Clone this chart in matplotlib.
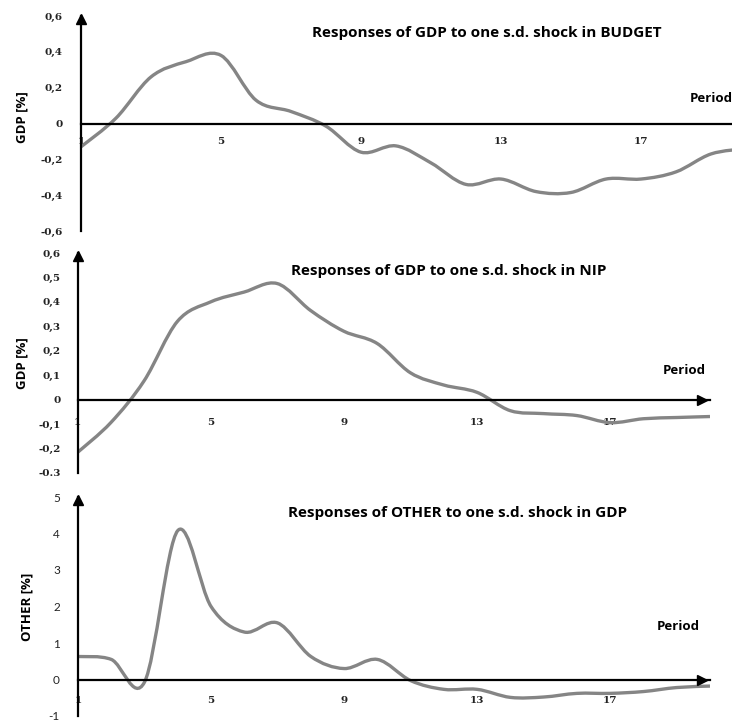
import numpy as np
import matplotlib
matplotlib.use("Agg")
import matplotlib.pyplot as plt
from matplotlib.path import Path
from matplotlib.patches import PathPatch

W, H = 732, 722

periods = list(range(1, 21))

# Responses of GDP to BUDGET shock
gdp_budget = [-0.13, 0.03, 0.26, 0.345, 0.38, 0.13, 0.067, -0.015, -0.16, -0.125,
              -0.22, -0.34, -0.31, -0.38, -0.385, -0.31, -0.31, -0.27, -0.17, -0.14]

# Responses of GDP to NIP shock
gdp_nip = [-0.216, -0.094, 0.077, 0.32, 0.40, 0.44, 0.475, 0.365, 0.28, 0.23,
           0.11, 0.06, 0.03, -0.045, -0.057, -0.065, -0.094, -0.078, -0.073, -0.069]

# Responses of OTHER to GDP shock
other_gdp = [0.63, 0.55, -0.07, 4.08, 2.0, 1.3, 1.55, 0.63, 0.3, 0.55,
             -0.03, -0.27, -0.27, -0.49, -0.48, -0.38, -0.38, -0.33, -0.22, -0.18]

xticks = [1, 5, 9, 13, 17]

yticks1 = [-0.6, -0.4, -0.2, 0, 0.2, 0.4, 0.6]
ylabels1 = ["-0,6", "-0,4", "-0,2", "0", "0,2", "0,4", "0,6"]
yticks2 = [-0.3, -0.2, -0.1, 0, 0.1, 0.2, 0.3, 0.4, 0.5, 0.6]
ylabels2 = ["-0.3", "-0,2", "-0,1", "0", "0,1", "0,2", "0,3", "0,4", "0,5", "0,6"]
yticks3 = [-1, 0, 1, 2, 3, 4, 5]
ylabels3 = ["-1", "0", "1", "2", "3", "4", "5"]

titles = ["Responses of GDP to one s.d. shock in BUDGET",
          "Responses of GDP to one s.d. shock in NIP",
          "Responses of OTHER to one s.d. shock in GDP"]

LINE = "#858585"
SANS = ["Open Sans", "DejaVu Sans"]
SERIF = ["DejaVu Serif"]


def smooth_path(x, y):
    # Excel-like smoothed line: Catmull-Rom converted to cubic Bezier
    pts = np.column_stack([x, y]).astype(float)
    n = len(pts)
    verts = [pts[0]]
    codes = [Path.MOVETO]
    for i in range(n - 1):
        p0 = pts[max(i - 1, 0)]
        p1 = pts[i]
        p2 = pts[i + 1]
        p3 = pts[min(i + 2, n - 1)]
        verts += [p1 + (p2 - p0) / 6, p2 - (p3 - p1) / 6, p2]
        codes += [Path.CURVE4] * 3
    return Path(verts, codes)


def px_ax(left, top, right, bottom):
    return fig.add_axes([left / W, 1 - bottom / H, (right - left) / W, (bottom - top) / H])


fig = plt.figure(figsize=(W / 100, H / 100), dpi=100)

panels = [
    dict(box=(81, 16, 732, 231), xlim=(1, 19.6), ylim=(-0.6, 0.6), data=gdp_budget,
         yt=yticks1, yl=ylabels1, yfont=SERIF, yweight="bold", ysize=7.5,
         xpad=10, ypad=13,
         xarrow=False, title_xy=(487, 33), period_xy=(690, 98),
         ylabel="GDP [%]", ylabel_xy=(22, 117)),
    dict(box=(77.5, 253, 710, 473), xlim=(1, 20), ylim=(-0.3, 0.6), data=gdp_nip,
         yt=yticks2, yl=ylabels2, yfont=SERIF, yweight="bold", ysize=7.5,
         xpad=13, ypad=12,
         xarrow=True, title_xy=(449, 271), period_xy=(663, 370),
         ylabel="GDP [%]", ylabel_xy=(22, 363)),
    dict(box=(78, 497, 710, 716), xlim=(1, 20), ylim=(-1, 5), data=other_gdp,
         yt=yticks3, yl=ylabels3, yfont=["Lato", "DejaVu Sans"], yweight="normal",
         ysize=8.5, xpad=12, ypad=13,
         xarrow=True, title_xy=(458, 513), period_xy=(657, 626),
         ylabel="OTHER [%]", ylabel_xy=(27, 607)),
]

for p, title in zip(panels, titles):
    ax = px_ax(*p["box"])
    ax.set_xlim(*p["xlim"])
    ax.set_ylim(*p["ylim"])
    ax.patch.set_visible(False)

    ax.add_patch(PathPatch(smooth_path(periods, p["data"]), facecolor="none",
                           edgecolor=LINE, lw=2.4, zorder=3))

    for side in ["top", "right"]:
        ax.spines[side].set_visible(False)
    ax.spines["left"].set_position(("data", 1))
    ax.spines["bottom"].set_position(("data", 0))
    for side in ["left", "bottom"]:
        ax.spines[side].set_linewidth(1.6)
        ax.spines[side].set_color("black")
        ax.spines[side].set_zorder(4)

    ax.set_xticks(xticks)
    ax.set_xticklabels([str(t) for t in xticks], fontfamily=SERIF,
                       fontweight="bold", fontsize=7.5, color="#222222")
    ax.set_yticks(p["yt"])
    ax.set_yticklabels(p["yl"], fontfamily=p["yfont"], fontweight=p["yweight"],
                       fontsize=p["ysize"], color="#222222")
    ax.tick_params(axis="x", length=0, pad=p["xpad"])
    ax.tick_params(axis="y", length=0, pad=p["ypad"])

    # arrow heads
    ax.plot(1, 0.985, marker="^", color="black", markersize=7,
            transform=ax.get_xaxis_transform(), clip_on=False, zorder=5)
    if p["xarrow"]:
        ax.plot(0.988, 0, marker=">", color="black", markersize=7,
                transform=ax.get_yaxis_transform(), clip_on=False, zorder=5)

    tx, ty = p["title_xy"]
    fig.text(tx / W, 1 - ty / H, title, ha="center", va="center",
             fontfamily=SANS, fontweight="bold", fontsize=11)
    px, py = p["period_xy"]
    fig.text(px / W, 1 - py / H, "Period", ha="left", va="center",
             fontfamily=SANS, fontweight="bold", fontsize=9.5)
    lx, ly = p["ylabel_xy"]
    fig.text(lx / W, 1 - ly / H, p["ylabel"], ha="center", va="center",
             rotation=90, fontfamily=SANS, fontweight="bold", fontsize=9.5)

fig.savefig("out.png", dpi=100)
